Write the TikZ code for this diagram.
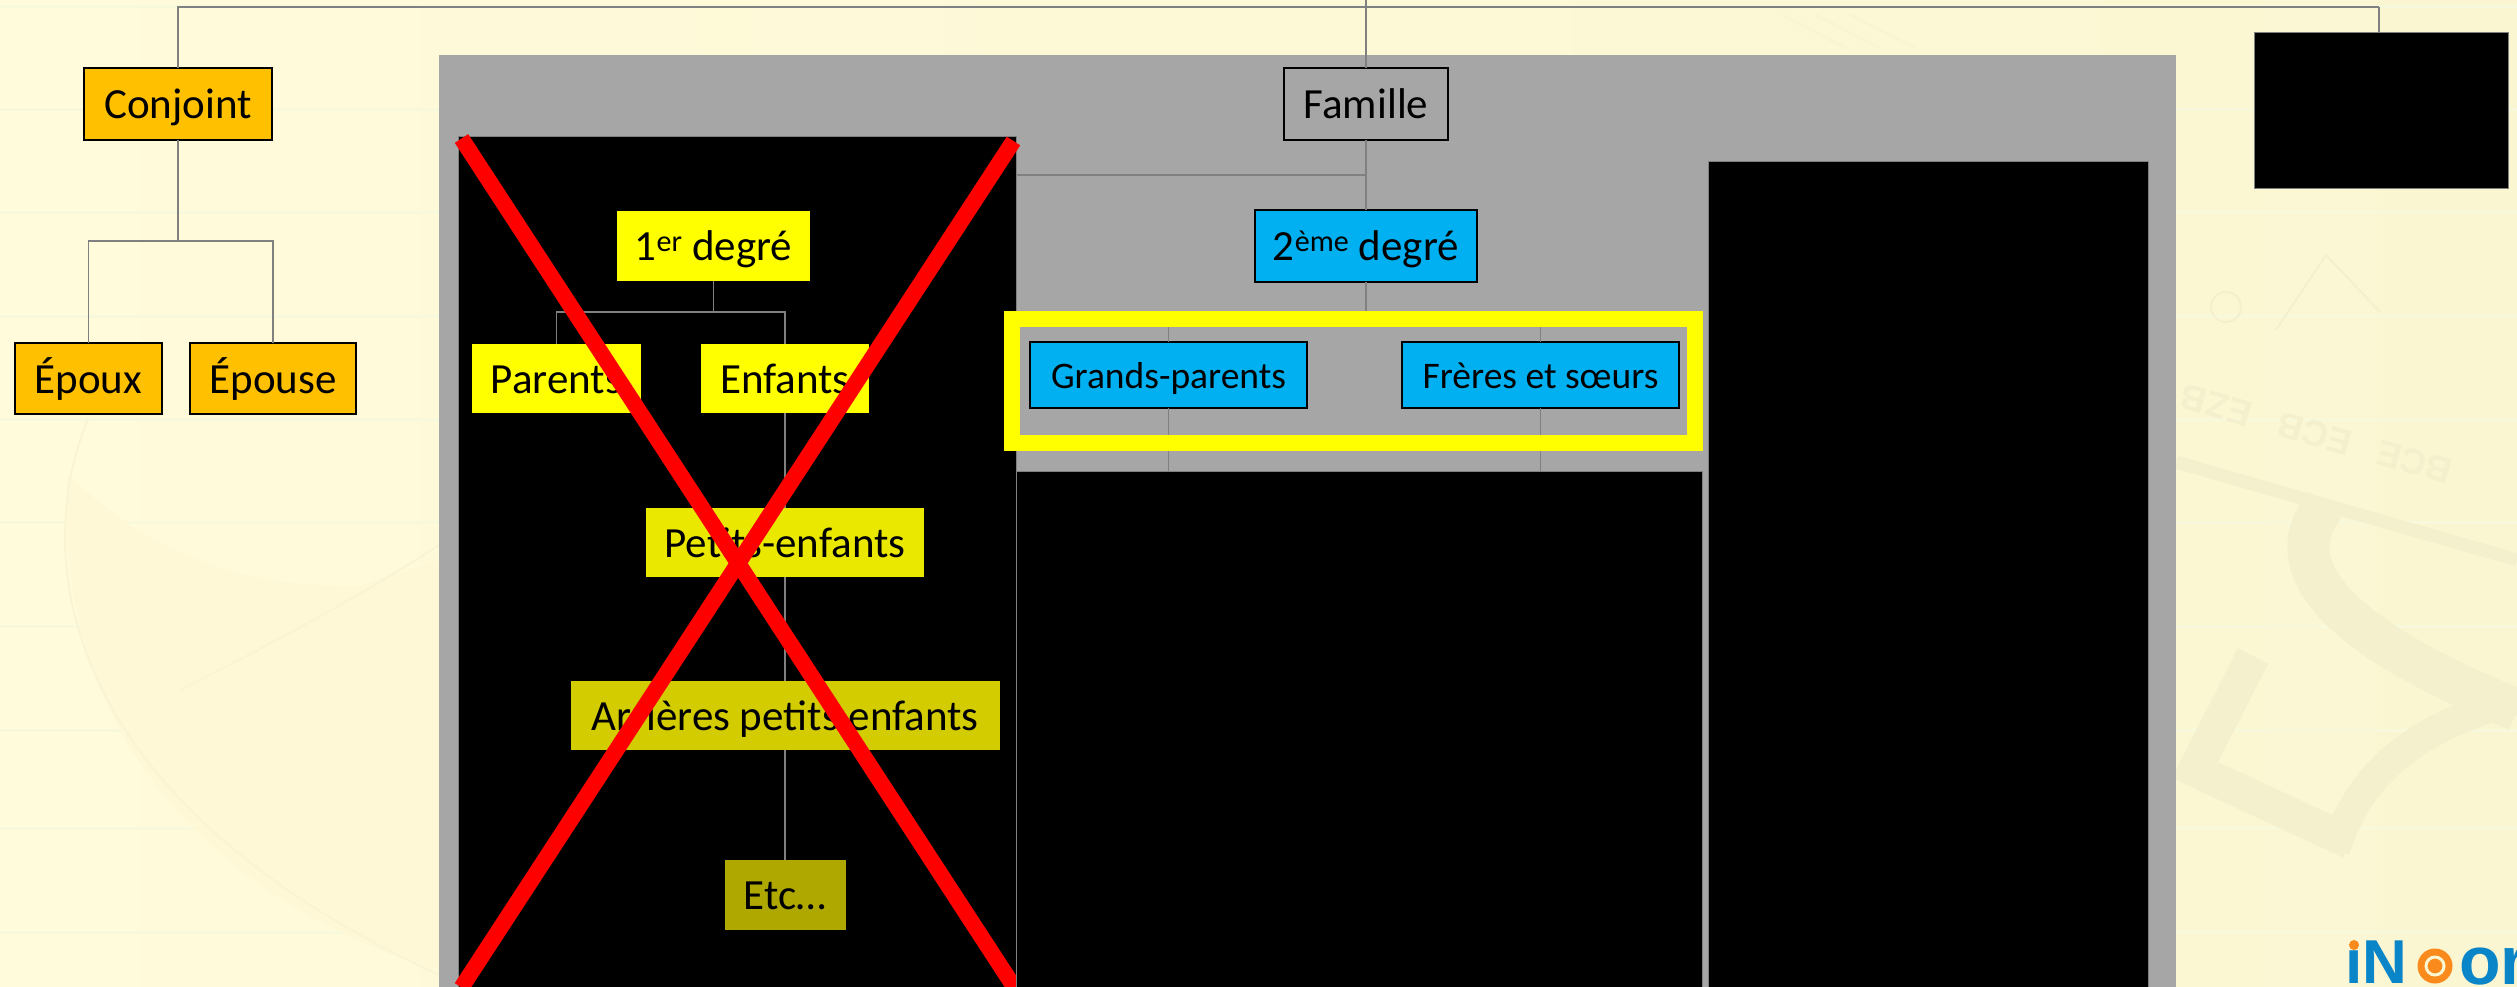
\documentclass[tikz,border=0pt]{standalone}
\usepackage{fontspec}
\setmainfont{Carlito}
\newfontfamily\logofont{Liberation Sans}
\usetikzlibrary{positioning}

\definecolor{fondclair}{HTML}{FFFBDB}
\definecolor{fondfonce}{HTML}{FBF6D2}
\definecolor{regle}{HTML}{F6F9DC}
\definecolor{filigrane}{HTML}{F4EFCC}
\definecolor{pale}{HTML}{F9F5D4}
\definecolor{tache}{HTML}{FEF8D7}
\definecolor{panneaugris}{HTML}{A6A6A6}
\definecolor{trait}{HTML}{808080}
\definecolor{orange}{HTML}{FFC000}
\definecolor{jaunea}{HTML}{FFFF00}
\definecolor{jauneb}{HTML}{EBE800}
\definecolor{jaunec}{HTML}{D2CC00}
\definecolor{jauned}{HTML}{AEA800}
\definecolor{bleu}{HTML}{00B0F0}
\definecolor{logobleu}{HTML}{0A85C8}
\definecolor{logoorange}{HTML}{F98A1B}

\begin{document}
\begin{tikzpicture}[x=1pt,y=-1pt,line width=1.3pt]
	\tikzstyle{every node}=[inner sep=0pt,outer sep=0pt,text=black,font=\fontsize{43}{50}\selectfont,text height=39pt,text depth=10pt]
	\tikzstyle{boite}=[rectangle,draw=black,line width=2pt]
	\tikzstyle{conj}=[boite,fill=orange]
	\tikzstyle{bleue}=[boite,fill=bleu]
	\tikzstyle{petite}=[font=\fontsize{37.5}{44}\selectfont,text height=37pt]
	\tikzstyle{masque}=[rectangle,fill=black,draw=black!50,line width=1pt,text height=,text depth=]
	\tikzstyle{lien}=[draw=trait,line width=1.3pt]
	\tikzstyle{logo}=[text=logobleu,text height=,text depth=,anchor=base west]
	\useasboundingbox (0,0) rectangle (2517,987);
	
	% fond
	\shade[left color=fondclair,right color=fondfonce] (0,0) rectangle (2517,987);
	\foreach \y in {7,110,213,316,419,522,626,730,828,932}
		\draw[regle,line width=3pt] (0,\y) -- (2517,\y);
	\fill[tache] (67,475) .. controls (130,530) and (200,585) .. (357,587)
		-- (440,560) -- (440,970) .. controls (300,930) and (50,800) .. (67,475);
	\draw[pale,line width=2pt] (88,419) .. controls (30,560) and (60,800) .. (439,975);
	\draw[pale,line width=2pt] (180,690) .. controls (280,640) and (370,590) .. (439,545);
	\foreach \x in {1782,1815,1850}
		\draw[pale,line width=3pt] (\x,15) -- (\x+65,48);
	\draw[filigrane,line width=13pt] (2176,462) -- (2517,560);
	\draw[filigrane,line width=42pt] (2325,505) .. controls (2280,560) and (2320,630) .. (2517,710);
	\draw[filigrane,line width=34pt] (2253,656) -- (2195,770) -- (2350,842);
	\draw[filigrane,line width=30pt] (2335,850) .. controls (2360,770) and (2420,725) .. (2517,700);
	\draw[filigrane,line width=2pt] (2276,330) -- (2326,255) -- (2380,312);
	\draw[filigrane,line width=2pt] (2226,307) circle[radius=15pt];
	\node[rotate=164,text=filigrane,font=\logofont\bfseries\fontsize{36}{36}\selectfont,text height=,text depth=] (billet) at (2316,434) {BCE\hspace{18pt} ECB\hspace{18pt} EZB};

	% panneau et masques
	\node[rectangle,fill=panneaugris,minimum width=1737pt,minimum height=932pt,text height=,text depth=] (panneau) at (1307.5,521) {};
	\node[masque,minimum width=558pt,minimum height=850pt] (masque1) at (737,562) {};
	\node[masque,minimum width=440pt,minimum height=825pt] (masque3) at (1928,574.5) {};
	\node[masque,minimum width=254pt,minimum height=156pt] (masque4) at (2381,111) {};

	% boites
	\node[conj,minimum width=188pt,minimum height=72pt] (conjoint) at (178,104) {Conjoint};
	\node[conj,minimum width=147pt,minimum height=71pt] (epoux) [below=203pt of conjoint,xshift=-89.5pt] {Époux};
	\node[conj,minimum width=166pt,minimum height=71pt] (epouse) [right=28pt of epoux] {Épouse};
	\node[boite,fill=panneaugris,minimum width=164pt,minimum height=72pt] (famille) at (1366,104) {Famille};
	\node[fill=jaunea,minimum width=193pt,minimum height=70pt] (degre1) at (713.5,246) {1\textsuperscript{er} degré};
	\node[fill=jaunea,minimum width=169pt,minimum height=69pt] (parents) at (556.5,378.5) {Parents};
	\node[fill=jaunea,minimum width=168pt,minimum height=69pt] (enfants) [right=60pt of parents] {Enfants};
	\node[fill=jauneb,minimum width=278pt,minimum height=69pt] (petits) [below=95pt of enfants] {Petits-enfants};
	\node[fill=jaunec,minimum width=429pt,minimum height=69pt] (arrieres) [below=104pt of petits] {Arrières petits enfants};
	\node[fill=jauned,minimum width=121pt,minimum height=70pt] (etc) [below=110pt of arrieres] {Etc…};
	\node[bleue,minimum width=222pt,minimum height=72pt] (degre2) [below=70pt of famille] {2\textsuperscript{ème} degré};
	\node[bleue,petite,minimum width=277pt,minimum height=66pt] (grands) at (1168.5,375) {Grands-parents};
	\node[bleue,petite,minimum width=277pt,minimum height=66pt] (freres) [right=95pt of grands] {Frères et sœurs};

	\coordinate (haut) at (1366,0);
	\coordinate (toit) at (1366,7);
	\coordinate (coin) at (2379,7);
	\coordinate (fourche) at (178,241);
	\coordinate (fourche1) at (713.5,312);
	\coordinate (fourche2) at (1366,319);
	\coordinate (coude) at (1366,175);
	\coordinate (basg) at (1168.5,471);
	\coordinate (basf) at (1540.5,471);

	\path[lien]
	(haut) edge (famille)
	(toit) edge (coin)
	(coin) edge (coin |- masque4.north)
	(conjoint) edge (fourche)
	(degre1) edge (fourche1)
	(enfants) edge (petits)
	(petits) edge (arrieres)
	(arrieres) edge (etc)
	(famille) edge (degre2)
	(coude) edge (coude -| masque1.east)
	(degre2) edge (fourche2)
	(grands) edge (basg)
	(freres) edge (basf)
	;
	\draw[lien] (toit) -| (conjoint);
	\draw[lien] (fourche) -| (epoux);
	\draw[lien] (fourche) -| (epouse);
	\draw[lien] (fourche1) -| (parents);
	\draw[lien] (fourche1) -| (enfants);
	\draw[lien] (fourche2) -| (grands);
	\draw[lien] (fourche2) -| (freres);

	% cadre jaune
	\node[rectangle,draw=jaunea,line width=16pt,minimum width=683pt,minimum height=124pt,text height=,text depth=] (cadre) at (1353.5,381) {};

	% croix rouge
	\coordinate (croixa) at (461.5,138.5);
	\coordinate (croixb) at (1020,996);
	\coordinate (croixc) at (1013.5,141);
	\coordinate (croixd) at (461.5,987.5);
	\draw[red,line width=16pt] (croixa) -- (croixb);
	\draw[red,line width=16pt] (croixc) -- (croixd);

	% masque du milieu, par-dessus le bout de la croix
	\node[masque,minimum width=686pt,minimum height=516pt] (masque2) at (1359,729) {};

	% logo
	\node[logo,font=\logofont\bfseries\fontsize{62}{62}\selectfont] (logoa) at (2345,983) {ıN};
	\fill[logoorange] (2354,945) circle[radius=5pt];
	\node[circle,fill=logoorange,minimum size=35pt,text height=,text depth=] (logoc) at (2435,966) {};
	\draw[fondfonce,line width=3pt] (logoc) circle[radius=9pt];
	\node[logo,font=\logofont\bfseries\fontsize{68}{68}\selectfont] (logob) at (2459,984) {or};
\end{tikzpicture}
\end{document}
